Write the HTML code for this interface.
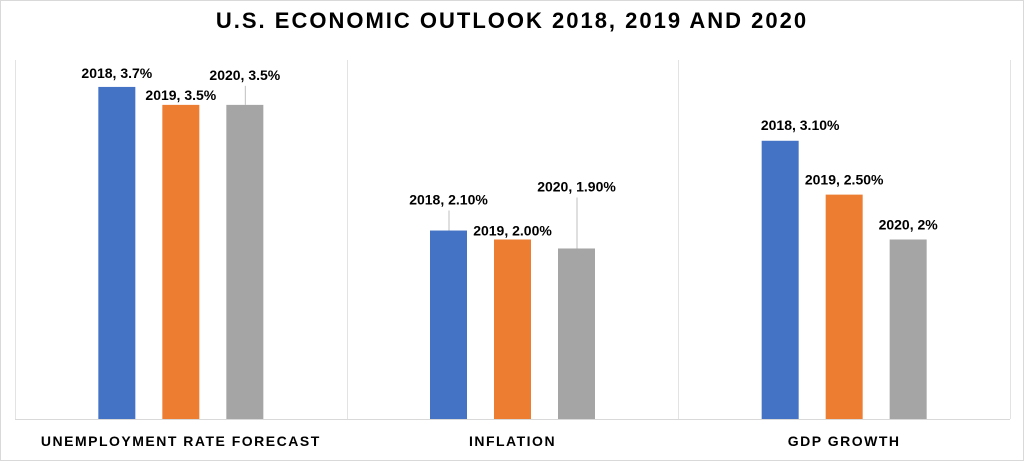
<!DOCTYPE html>
<html><head><meta charset="utf-8"><style>
html,body{margin:0;padding:0;background:#fff}
svg{display:block;font-family:"Liberation Sans",sans-serif}
</style></head><body>
<svg id="chart" width="1024" height="461">
<rect x="0.5" y="0.5" width="1023" height="460" fill="#fff" stroke="#d9d9d9"/>
<text x="512" y="28" text-anchor="middle" font-size="22" font-weight="bold" letter-spacing="2" fill="#000">U.S. ECONOMIC OUTLOOK 2018, 2019 AND 2020</text>
<g id="grid"></g><g id="bars"></g><g id="labels"></g>
</svg>
<script>
const categories = ["UNEMPLOYMENT RATE FORECAST", "INFLATION", "GDP GROWTH"];
const years = ["2018", "2019", "2020"];
const values2018 = [3.7, 2.1, 3.1];
const values2019 = [3.5, 2.0, 2.5];
const values2020 = [3.5, 1.9, 2.0];
const labels2018 = ["3.7%", "2.10%", "3.10%"];
const labels2019 = ["3.5%", "2.00%", "2.50%"];
const labels2020 = ["3.5%", "1.90%", "2%"];
const series = [values2018, values2019, values2020];
const seriesLabels = [labels2018, labels2019, labels2020];
const colors = ["#4472c4", "#ed7d31", "#a5a5a5"];
// label placement offsets [category][series] = (dx, dy above bar top)
const labelOff = [[[0,-9],[0,-5],[0,-25]],[[0,-26],[0,-4],[0,-57]],[[20,-11],[0,-10],[0,-10]]];
const NS = "http://www.w3.org/2000/svg";
const x0 = 15, x1 = 1010, yBase = 419, yTop = 60, yMax = 4;
const y = v => yBase - (v / yMax) * (yBase - yTop);
const bandW = (x1 - x0) / categories.length;
const barW = 37, gap = 64;
const bx = (c, s) => x0 + bandW * c + bandW / 2 + (s - 1) * gap - barW / 2;
function mk(tag, attrs, parent) { const e = document.createElementNS(NS, tag); for (const k in attrs) e.setAttribute(k, attrs[k]); parent.appendChild(e); return e; }
const grid = document.getElementById("grid"), bars = document.getElementById("bars"), labels = document.getElementById("labels");
for (let i = 0; i <= categories.length; i++) {
  const gx = Math.round(x0 + bandW * i) + 0.5;
  const l = mk("line", {x1: gx, x2: gx, y1: yTop, y2: yBase, stroke: "#e3e3e3"}, grid);
  
  
}
const ax = mk("line", {x1: x0, x2: x1, y1: yBase + 0.5, y2: yBase + 0.5, stroke: "#d9d9d9"}, grid);


categories.forEach((cat, c) => {
  const t = mk("text", {x: x0 + bandW * c + bandW / 2, y: 446, "text-anchor": "middle", "font-size": 14, "font-weight": "bold", "letter-spacing": 1.5, fill: "#000"}, labels);
  t.textContent = cat;
  
  
  series.forEach((vals, s) => {
    const top = y(vals[c]);
    const r = mk("rect", {x: bx(c, s), y: top, width: barW, height: yBase - top, fill: colors[s]}, bars);
    
    
    const [dx, dy] = labelOff[c][s];
    const cx = bx(c, s) + barW / 2 + dx;
    const ly = top + dy;
    if (dy < -15) {
      const ll = mk("line", {x1: bx(c, s) + barW / 2 + 0.5, x2: bx(c, s) + barW / 2 + 0.5, y1: ly + 6, y2: top, stroke: "#bfbfbf"}, labels);
      
      
    }
    const lt = mk("text", {x: cx, y: ly, "text-anchor": "middle", "font-size": 14, "font-weight": "bold", fill: "#000"}, labels);
    lt.textContent = years[s] + ", " + seriesLabels[s][c];
    
    
  });
});
</script>
</body></html>
